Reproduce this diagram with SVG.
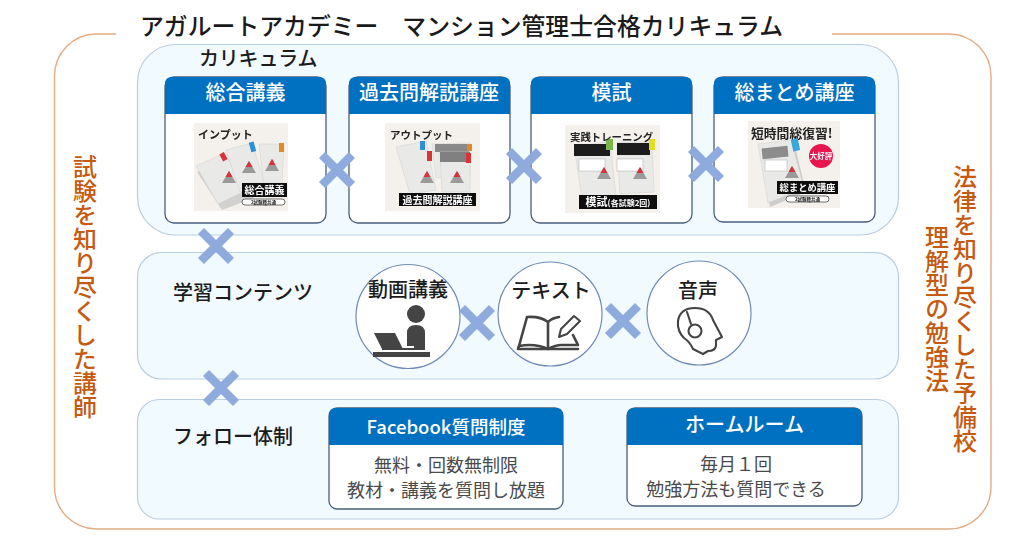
<svg xmlns="http://www.w3.org/2000/svg" width="1024" height="538" viewBox="0 0 1024 538">
<style>
text{font-family:"Noto Sans CJK JP","Noto Sans",sans-serif}
.panel{fill:#f1faff;stroke:#b9cde2;stroke-width:1.2}
.card{fill:#fff;stroke:#4a5f7e;stroke-width:1.3}
.hd{fill:#0070c0}
.ht{fill:#fff;font-size:20px;font-weight:500;text-anchor:middle}
.lb{fill:#1c1c1c;font-size:20px;font-weight:500}
.mid{text-anchor:middle}
.bd{fill:#4a4a4a;font-size:18px;text-anchor:middle}
.or{fill:#c55a11;font-size:24px;font-weight:500;writing-mode:vertical-rl}
.x{stroke:#8faadc;stroke-width:8.5;fill:none}
.frame{fill:none;stroke:#e3ac84;stroke-width:1.4}
.circ{fill:#fff;stroke:#6f8bb5;stroke-width:1.2}
.th{fill:#f4f1ec}
.pg{fill:#e9e9e7;stroke:#cfcfcf;stroke-width:.5}
.tt{fill:#222;font-weight:700}
.blk{fill:#111}
.wt{fill:#fff;font-size:10px;font-weight:700;text-anchor:middle}
.tiny{fill:#222;font-size:4.500px;font-weight:700;text-anchor:middle}
.ic{fill:#444}
.il{fill:none;stroke:#444;stroke-width:2.6;stroke-linejoin:round;stroke-linecap:round}
.il2{fill:none;stroke:#444;stroke-width:2.100;stroke-linejoin:round;stroke-linecap:round}
</style>
<defs>
<filter id="soft" x="-5%" y="-5%" width="110%" height="110%"><feGaussianBlur stdDeviation="0.45"/></filter>
<path id="cross" d="M-15-15L15 15M15-15L-15 15"/>
<g id="logo"><path d="M0-7L7 5H-7Z" fill="#9a9a9a"/><path d="M0-7L3.500-1H-3.500Z" fill="#d8303a"/></g>
</defs>

<rect width="1024" height="538" fill="#fff"/>

<g id="frame">
<path class="frame" d="M116 34H96A42 42 0 0 0 54.500 76V487A42 42 0 0 0 96 529H949A42 42 0 0 0 991 487V76A42 42 0 0 0 949 34H832"/>
</g>
<text id="title" x="140" y="35" font-size="23.850" font-weight="500" fill="#1a1a1a">アガルートアカデミー　マンション管理士合格カリキュラム</text>
<text id="left-label" class="or" x="85" y="155">試験を知り尽くした講師</text>
<text id="right-label-1" class="or" x="965" y="165">法律を知り尽くした予備校</text>
<text id="right-label-2" class="or" x="937" y="225">理解型の勉強法</text>

<g id="panel-curriculum">
<rect class="panel" x="137.500" y="44.500" width="761" height="190.500" rx="38"/>
<text class="lb" x="199" y="66" letter-spacing="-.2">カリキュラム</text>
</g>
<g id="panel-contents">
<rect class="panel" x="137.500" y="252.500" width="761" height="126.500" rx="24"/>
<text class="lb" x="173" y="300">学習コンテンツ</text>
</g>
<g id="panel-follow">
<rect class="panel" x="137.500" y="399.500" width="761" height="119.500" rx="22"/>
<text class="lb" x="173" y="444">フォロー体制</text>
</g>

<g id="card-sogo">
<rect class="card" x="165" y="77" width="161" height="146" rx="9"/>
<path class="hd" d="M165 114V84Q165 77 172 77H319Q326 77 326 84V114Z"/>
<text class="ht" x="245.500" y="100">総合講義</text>
<g filter="url(#soft)">
<rect class="th" x="194" y="123" width="94" height="88"/>
<text class="tt" x="198" y="139" style="font-size:11px">インプット</text>
<path d="M197 172L226 157L254 198L222 210Z" fill="#bdbdbd" opacity=".6"/>
<path class="pg" d="M196 166L225 153L245 191L218 204Z"/>
<path class="pg" d="M226 150L252 143L266 187L240 192Z"/>
<path class="pg" d="M259 144L284 144L282 184L264 187Z"/>
<rect x="221" y="153" width="5" height="8" fill="#d8303a" transform="rotate(-28 223 157)"/>
<rect x="250" y="142" width="5" height="10" fill="#2f8fd8" transform="rotate(-15 252 147)"/>
<rect x="279" y="143" width="5" height="9" fill="#e08a2e"/>
<use href="#logo" x="229" y="178"/><use href="#logo" x="249" y="168"/><use href="#logo" x="272" y="166"/>
<rect class="blk" x="242" y="183" width="45" height="14"/>
<text class="wt" x="264.500" y="194">総合講義</text>
<rect x="242" y="199" width="43" height="6" rx="3" fill="#fff" stroke="#333" stroke-width=".7"/>
<text class="tiny" x="263.500" y="204">2試験種共通</text>
</g>
</g>

<g id="card-kako">
<rect class="card" x="349" y="77" width="161" height="146" rx="9"/>
<path class="hd" d="M349 114V84Q349 77 356 77H503Q510 77 510 84V114Z"/>
<text class="ht" x="429" y="100">過去問解説講座</text>
<g filter="url(#soft)">
<rect class="th" x="385" y="123" width="95" height="88"/>
<text class="tt" x="390" y="139" style="font-size:10.500px">アウトプット</text>
<path class="pg" d="M396 147L426 141L436 190L410 194Z"/>
<path class="pg" d="M432 144L470 143L470 175L436 178Z"/>
<rect x="435" y="144" width="34" height="8" fill="#8a8a8a"/>
<path class="pg" d="M440 152L470 152L470 192L442 192Z"/>
<rect x="440" y="152" width="30" height="10" fill="#808080"/>
<rect x="420" y="141" width="5" height="9" fill="#2f8fd8"/>
<rect x="427" y="151" width="5" height="10" fill="#d8303a"/>
<rect x="467" y="144" width="5" height="7" fill="#e08a2e"/>
<rect x="466" y="153" width="5" height="10" fill="#d8303a"/>
<use href="#logo" x="427" y="178"/><use href="#logo" x="457" y="178"/>
<rect class="blk" x="399" y="193" width="77" height="13"/>
<text class="wt" x="437.500" y="203.500">過去問解説講座</text>
</g>
</g>

<g id="card-moshi">
<rect class="card" x="531" y="77" width="161" height="146" rx="9"/>
<path class="hd" d="M531 114V84Q531 77 538 77H685Q692 77 692 84V114Z"/>
<text class="ht" x="611.500" y="100">模試</text>
<g filter="url(#soft)">
<rect class="th" x="565" y="125" width="95" height="88"/>
<path class="pg" d="M574 146L610 142L616 196L582 198Z"/>
<path class="pg" d="M617 142L652 142L654 192L620 194Z"/>
<rect x="574" y="144" width="36" height="12" fill="#1c1c1c"/>
<rect x="617" y="143" width="33" height="12" fill="#1c1c1c"/>
<rect x="606" y="139" width="7" height="11" fill="#78b84a"/>
<rect x="649" y="139" width="6" height="11" fill="#e5dc28"/>
<rect x="579" y="159" width="26" height="12" fill="#fff" stroke="#aaa" stroke-width=".5"/>
<rect x="617" y="159" width="26" height="12" fill="#fff" stroke="#aaa" stroke-width=".5"/>
<use href="#logo" x="604" y="174"/><use href="#logo" x="640" y="174"/>
<text class="tt" x="570" y="141" style="font-size:10.400px">実践トレーニング</text>
<rect class="blk" x="579" y="195" width="78" height="14"/>
<text class="wt" x="618" y="206" style="font-size:8px"><tspan style="font-size:11px">模試</tspan>(各試験2回)</text>
</g>
</g>

<g id="card-matome">
<rect class="card" x="714" y="77" width="161" height="145" rx="9"/>
<path class="hd" d="M714 114V84Q714 77 721 77H868Q875 77 875 84V114Z"/>
<text class="ht" x="794.500" y="100">総まとめ講座</text>
<g filter="url(#soft)">
<rect class="th" x="748" y="121" width="92" height="87"/>
<text class="tt" x="751" y="138" style="font-size:12.800px">短時間総復習!</text>
<path d="M759 146L794 142L806 192L770 207Z" fill="#bdbdbd" opacity=".7"/>
<path class="pg" d="M758 144L791 140L804 188L768 203Z"/>
<rect x="762" y="147" width="26" height="11" fill="#8c8c8c" transform="rotate(-6 775 152)"/>
<rect x="765" y="160" width="22" height="11" fill="#fff" stroke="#aaa" stroke-width=".5"/>
<rect x="792" y="139" width="7" height="12" fill="#38a8dc" transform="rotate(-12 795 145)"/>
<use href="#logo" x="792" y="173"/>
<circle cx="821" cy="156" r="12" fill="#e8174f"/>
<text x="821" y="159" font-size="7.500" font-weight="700" text-anchor="middle" fill="#fff">大好評</text>
<rect class="blk" x="777" y="181" width="61" height="13"/>
<text class="wt" x="807.500" y="191" style="font-size:9.300px">総まとめ講座</text>
<rect x="786" y="196" width="43" height="6" rx="3" fill="#fff" stroke="#333" stroke-width=".7"/>
<text class="tiny" x="807.500" y="201">2試験種共通</text>
</g>
</g>

<g id="circle-video">
<circle class="circ" cx="408" cy="316.500" r="52"/>
<text class="lb mid" x="408" y="297">動画講義</text>
<circle class="ic" cx="416" cy="314" r="9"/>
<path class="ic" d="M407 333Q407 325 416 325Q425 325 425 333V350H414V346H407Z"/>
<path class="ic" d="M374 333H395L403 349H382Z"/>
<rect class="ic" x="382" y="348" width="32" height="2"/>
<rect class="ic" x="373" y="352" width="57" height="5"/>
</g>

<g id="circle-text">
<circle class="circ" cx="550" cy="314" r="52"/>
<text class="lb mid" x="551" y="298">テキスト</text>
<path class="il" d="M548 322Q540 316 527 317L519 346Q535 343 548 349Q556 345 561 345H578L573 335M548 322V349M548 322Q552 318 559 317"/>
<path class="il" d="M519 346L518 349H578"/>
<path class="il2" d="M559 337L561 329L574 316L580 321L567 334Z"/>
</g>

<g id="circle-audio">
<circle class="circ" cx="699" cy="313" r="52"/>
<text class="lb mid" x="698" y="298">音声</text>
<path class="il2" d="M703 354L693 349Q690 342 684 338Q677 331 678 321Q680 308 695 308Q709 308 713 320L722 337L716 340V346Q715 351 708 351Z"/>
<path class="il2" d="M687 312L691 324"/>
<circle cx="695" cy="331" r="6.500" fill="none" stroke="#444" stroke-width="2.100"/>
</g>

<g id="card-facebook">
<rect class="card" x="329" y="408" width="234" height="101" rx="8"/>
<path class="hd" d="M329 445V415Q329 408 336 408H556Q563 408 563 415V445Z"/>
<text class="ht" x="446" y="434" style="font-size:18.500px">Facebook質問制度</text>
<text class="bd"><tspan x="446" y="472">無料・回数無制限</tspan><tspan x="446" y="497">教材・講義を質問し放題</tspan></text>
</g>

<g id="card-homeroom">
<rect class="card" x="627" y="408" width="235" height="98" rx="8"/>
<path class="hd" d="M627 445V415Q627 408 634 408H855Q862 408 862 415V445Z"/>
<text class="ht" x="744.500" y="432">ホームルーム</text>
<text class="bd"><tspan x="736" y="471">毎月１回</tspan><tspan x="736" y="496">勉強方法も質問できる</tspan></text>
</g>

<g id="connectors">
<use class="x" href="#cross" x="337" y="170"/>
<use class="x" href="#cross" x="524" y="166"/>
<use class="x" href="#cross" x="706" y="164"/>
<use class="x" href="#cross" x="216" y="246"/>
<use class="x" href="#cross" x="221" y="388"/>
<use class="x" href="#cross" x="477" y="323"/>
<use class="x" href="#cross" x="623" y="321"/>
</g>
</svg>
